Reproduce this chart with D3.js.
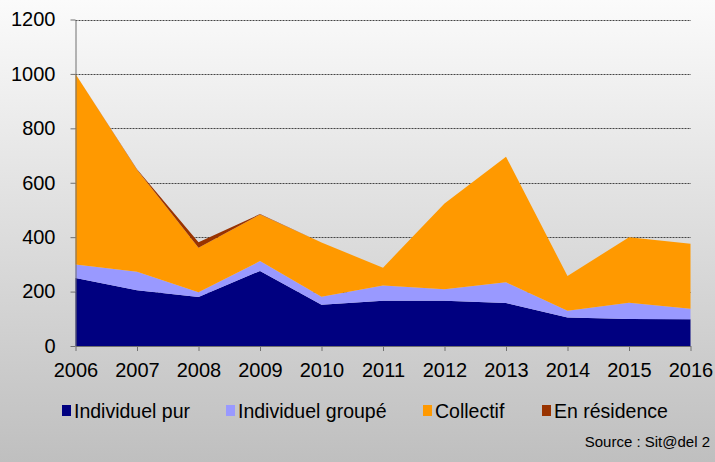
<!DOCTYPE html>
<html>
<head>
<meta charset="utf-8">
<script src="https://cdn.jsdelivr.net/npm/d3@7"></script>
<style>
  body { margin: 0; padding: 0; }
  svg { display: block; font-family: "Liberation Sans", Arial, sans-serif; }
</style>
</head>
<body>
<script>
// Data
var years = [2006, 2007, 2008, 2009, 2010, 2011, 2012, 2013, 2014, 2015, 2016];
var individuelPur    = [250, 205, 180, 276, 152, 166, 166, 158, 105, 99, 98];
var individuelGroupe = [50, 68, 18, 36, 29, 56, 43, 76, 25, 60, 39];
var collectif        = [700, 375, 163, 171, 199, 66, 315, 462, 127, 241, 239];
var enResidence      = [0, 2, 20, 2, 0, 0, 0, 0, 0, 0, 0];
var yTicks = [0, 200, 400, 600, 800, 1000, 1200];

var seriesNames = ["Individuel pur", "Individuel groupé", "Collectif", "En résidence"];
var seriesColors = ["#000080", "#9999FF", "#FF9900", "#993300"];
var keys = ["pur", "groupe", "collectif", "residence"];

var rows = years.map(function(y, i) {
  return { year: y, pur: individuelPur[i], groupe: individuelGroupe[i],
           collectif: collectif[i], residence: enResidence[i] };
});

//Define SVG
var width = 715, height = 462;
var svg = d3.select("body").append("svg")
  .attr("width", width)
  .attr("height", height);

// background gradient
var grad = svg.append("defs").append("linearGradient")
  .attr("id", "bg").attr("x1", 0).attr("y1", 0).attr("x2", 0).attr("y2", 1);
grad.append("stop").attr("offset", "0%").attr("stop-color", "#fbfbfb");
grad.append("stop").attr("offset", "100%").attr("stop-color", "#bfbfbf");
svg.append("rect").attr("width", width).attr("height", height).attr("fill", "url(#bg)");

//Define Scales
var xScale = d3.scaleLinear().domain([2006, 2016]).range([75.5, 690.5]);
var yScale = d3.scaleLinear().domain([0, 1200]).range([346, 19.5]);

// gridlines
svg.append("g").selectAll("line")
  .data(yTicks.filter(function(d) { return d > 0; }))
  .enter().append("line")
  .attr("x1", 75.5).attr("x2", 691)
  .attr("y1", function(d) { return Math.round(yScale(d)) + 0.5; })
  .attr("y2", function(d) { return Math.round(yScale(d)) + 0.5; })
  .attr("stroke", "#444")
  .attr("stroke-dasharray", "2,1");

// stacked areas
var stack = d3.stack().keys(keys);
var layers = stack(rows);

var area = d3.area()
  .x(function(d) { return xScale(d.data.year); })
  .y0(function(d) { return yScale(d[0]); })
  .y1(function(d) { return yScale(d[1]); });

svg.append("g").selectAll("path")
  .data(layers)
  .enter().append("path")
  .attr("d", area)
  .attr("fill", function(d, i) { return seriesColors[i]; });

//Define Axis
var yAxis = d3.axisLeft(yScale).tickValues(yTicks).tickFormat(d3.format("d"))
  .tickSize(5).tickSizeOuter(0).tickPadding(15);
var xAxis = d3.axisBottom(xScale).tickValues(years).tickFormat(d3.format("d"))
  .tickSize(5).tickSizeOuter(0).tickPadding(12);

var gY = svg.append("g")
  .attr("transform", "translate(75.5,0)")
  .call(yAxis);
var gX = svg.append("g")
  .attr("transform", "translate(0,346)")
  .call(xAxis);

[gX, gY].forEach(function(g) {
  g.selectAll("path, line").attr("stroke", "#707070");
  g.selectAll("text").attr("fill", "#000").style("font-size", "20px")
    .style("font-family", "Liberation Sans, Arial, sans-serif");
});

// legend
var legendX = [62, 226, 423, 542];
var legend = svg.append("g").selectAll("g")
  .data(seriesNames)
  .enter().append("g")
  .attr("transform", function(d, i) { return "translate(" + legendX[i] + ",0)"; });

legend.append("rect")
  .attr("x", 0).attr("y", 405)
  .attr("width", 9).attr("height", 11)
  .attr("fill", function(d, i) { return seriesColors[i]; });

legend.append("text")
  .attr("x", 12).attr("y", 418)
  .style("font-size", "19.5px")
  .attr("fill", "#000")
  .text(function(d) { return d; });

svg.append("text")
  .attr("x", 710).attr("y", 447)
  .style("text-anchor", "end")
  .style("font-size", "15px")
  .attr("fill", "#000")
  .text("Source : Sit@del 2");
</script>
</body>
</html>
